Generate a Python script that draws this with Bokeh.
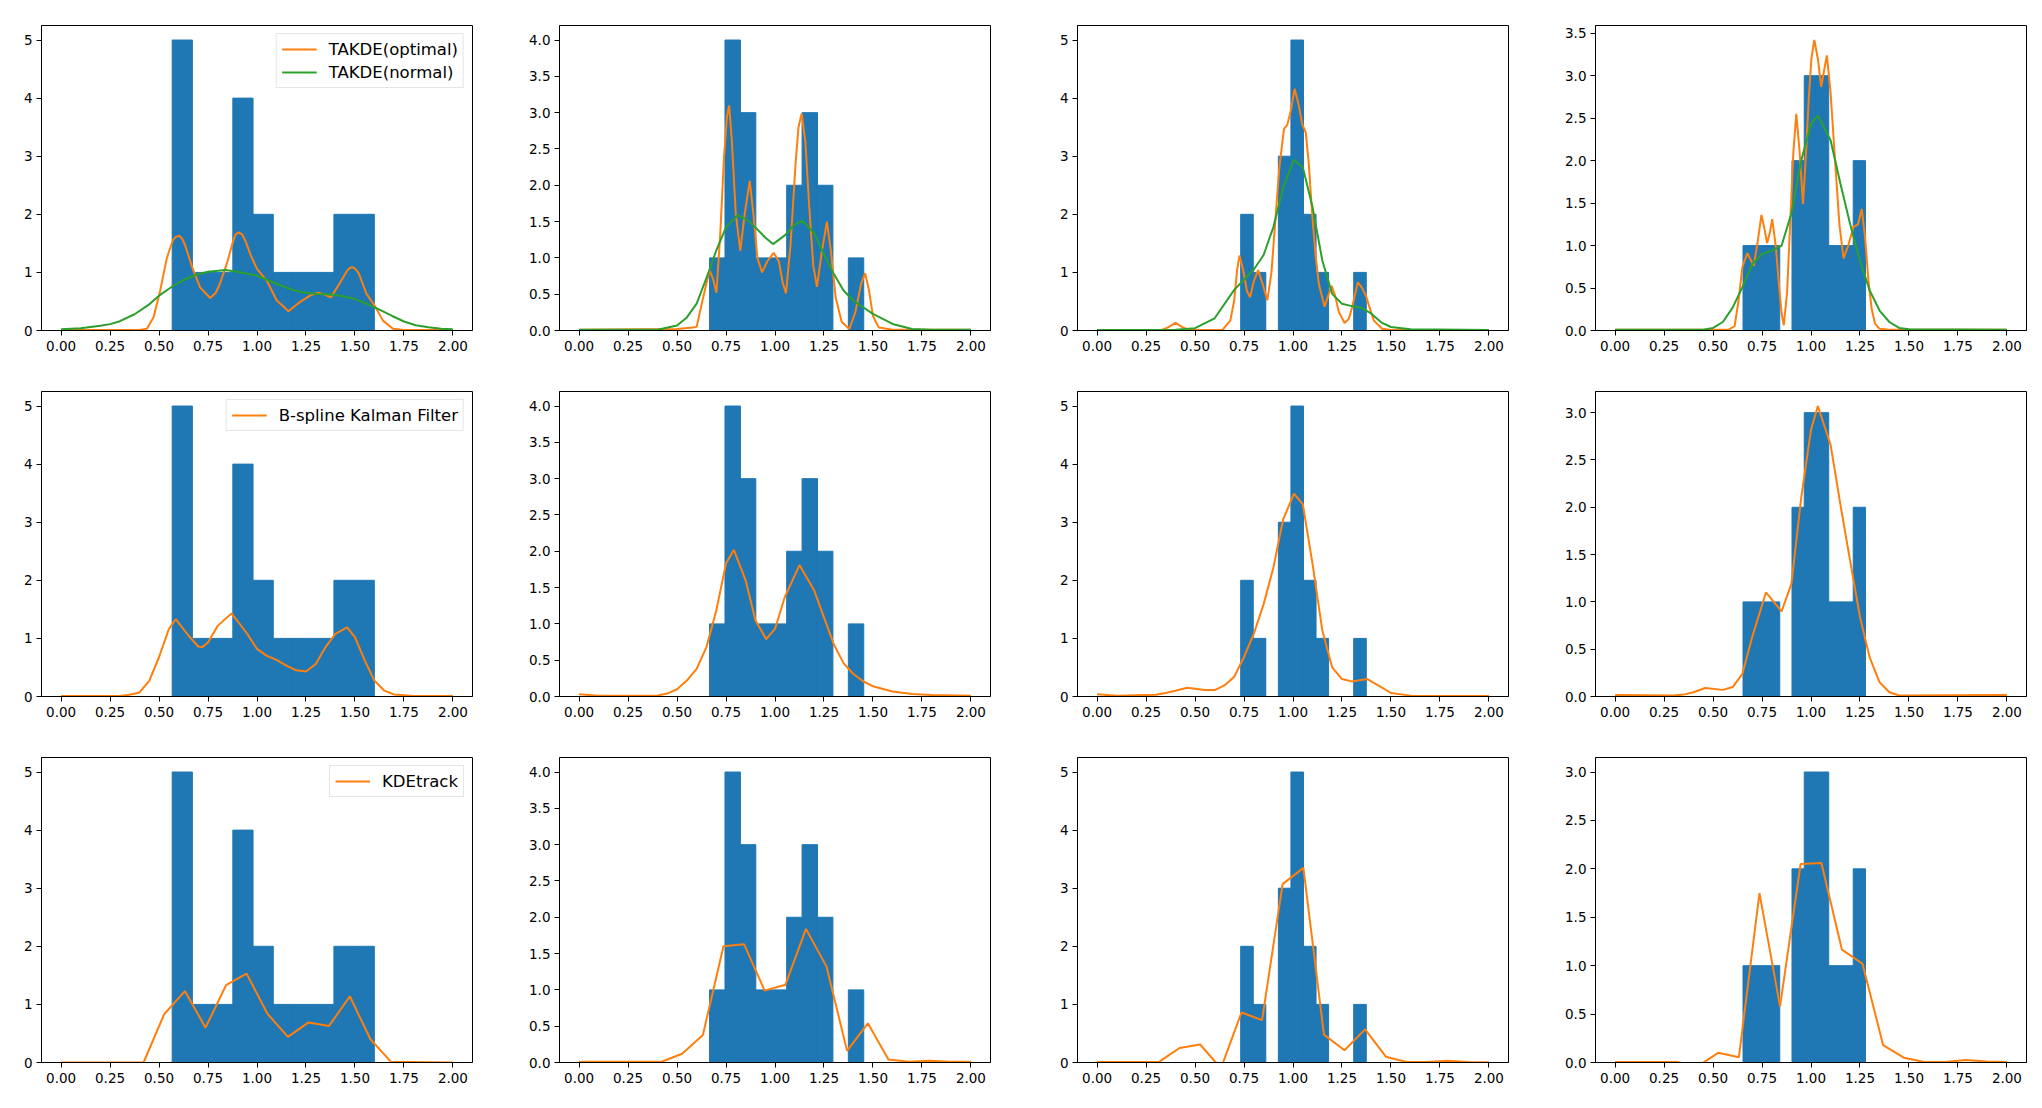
import numpy as np
from bokeh.plotting import figure
from bokeh.layouts import gridplot
from bokeh.models import Range1d, FixedTicker, PrintfTickFormatter
from bokeh.embed import file_html
from bokeh.resources import INLINE

# ---------------- data ----------------
# histogram (same for each column in all three rows): range of 10 equal bins and counts
hist_lo = [0.567, 0.666, 0.733, 0.653]
hist_hi = [1.599, 1.453, 1.374, 1.278]
hist_c1 = [5, 1, 1, 4, 2, 1, 1, 1, 2, 2]
hist_c2 = [1, 4, 3, 1, 1, 2, 3, 2, 0, 1]
hist_c3 = [2, 1, 0, 3, 5, 2, 1, 0, 0, 1]
hist_c4 = [1, 1, 1, 0, 2, 3, 3, 1, 1, 2]

# Row 1: TAKDE(optimal) (orange) and TAKDE(normal) (green)
r1c1_opt_x = [0, 0.40, 0.438, 0.472, 0.506, 0.54, 0.57, 0.585, 0.603, 0.62, 0.635, 0.669, 0.71, 0.761, 0.79, 0.81,
              0.846, 0.875, 0.89, 0.907, 0.925, 0.94, 0.97, 1.0, 1.05, 1.10, 1.161, 1.219, 1.27, 1.31, 1.345, 1.377,
              1.42, 1.46, 1.475, 1.49, 1.505, 1.52, 1.559, 1.6, 1.643, 1.694, 1.75, 2.0]
r1c1_opt_y = [0.01, 0.01, 0.03, 0.23, 0.69, 1.25, 1.55, 1.61, 1.63, 1.57, 1.45, 1.09, 0.74, 0.56, 0.65, 0.80,
              1.15, 1.50, 1.65, 1.69, 1.65, 1.55, 1.28, 1.06, 0.86, 0.52, 0.33, 0.49, 0.60, 0.65, 0.62, 0.57,
              0.80, 1.03, 1.08, 1.09, 1.05, 0.98, 0.63, 0.43, 0.17, 0.03, 0.01, 0.01]
r1c1_nor_x = [0, 0.1, 0.2, 0.25, 0.3, 0.375, 0.45, 0.5, 0.56, 0.625, 0.69, 0.75, 0.84, 0.92, 1.0, 1.06, 1.125,
              1.19, 1.25, 1.31, 1.375, 1.44, 1.5, 1.56, 1.625, 1.69, 1.75, 1.81, 1.875, 1.94, 2.0]
r1c1_nor_y = [0.02, 0.04, 0.08, 0.11, 0.16, 0.28, 0.45, 0.60, 0.74, 0.87, 0.96, 1.01, 1.04, 1.00, 0.945, 0.86, 0.77,
              0.69, 0.65, 0.63, 0.62, 0.59, 0.54, 0.46, 0.36, 0.25, 0.155, 0.09, 0.055, 0.03, 0.02]

r1c2_opt_x = [0, 0.5, 0.58, 0.60, 0.633, 0.666, 0.685, 0.701, 0.72, 0.74, 0.755, 0.766, 0.78, 0.80, 0.823, 0.845,
              0.871, 0.89, 0.91, 0.934, 0.96, 0.993, 1.02, 1.04, 1.056, 1.08, 1.105, 1.12, 1.136, 1.155, 1.175,
              1.195, 1.214, 1.24, 1.265, 1.285, 1.31, 1.34, 1.379, 1.41, 1.44, 1.46, 1.48, 1.50, 1.53, 1.6, 2.0]
r1c2_opt_y = [0.01, 0.02, 0.04, 0.05, 0.45, 0.83, 0.70, 0.52, 1.30, 2.40, 2.95, 3.10, 2.60, 1.60, 1.10, 1.60,
              2.06, 1.60, 1.00, 0.80, 0.95, 1.07, 0.95, 0.65, 0.51, 1.20, 2.30, 2.80, 2.99, 2.60, 1.70,
              0.90, 0.60, 1.10, 1.50, 1.10, 0.45, 0.12, 0.02, 0.25, 0.65, 0.79, 0.55, 0.20, 0.04, 0.01, 0.01]
r1c2_nor_x = [0, 0.4, 0.5, 0.55, 0.6, 0.65, 0.7, 0.75, 0.81, 0.86, 0.9, 0.95, 0.99, 1.05, 1.1, 1.14, 1.2, 1.25,
              1.3, 1.35, 1.4, 1.5, 1.6, 1.7, 1.8, 2.0]
r1c2_nor_y = [0.01, 0.01, 0.07, 0.18, 0.37, 0.72, 1.10, 1.42, 1.59, 1.52, 1.42, 1.28, 1.19, 1.31, 1.46, 1.51, 1.34,
              1.05, 0.78, 0.55, 0.41, 0.23, 0.09, 0.02, 0.01, 0.01]

r1c3_opt_x = [0, 0.33, 0.36, 0.40, 0.44, 0.47, 0.5, 0.64, 0.68, 0.70, 0.715, 0.727, 0.745, 0.765, 0.781, 0.80,
              0.822, 0.845, 0.869, 0.89, 0.91, 0.93, 0.954, 0.971, 0.99, 1.008, 1.028, 1.047, 1.065, 1.08, 1.098,
              1.115, 1.132, 1.161, 1.18, 1.197, 1.215, 1.234, 1.263, 1.285, 1.302, 1.331, 1.355, 1.375, 1.395,
              1.413, 1.455, 1.5, 2.0]
r1c3_opt_y = [0.01, 0.01, 0.05, 0.13, 0.05, 0.015, 0.01, 0.01, 0.17, 0.52, 1.05, 1.29, 1.05, 0.68, 0.57, 0.85,
              1.04, 0.80, 0.52, 1.00, 1.90, 2.80, 3.47, 3.54, 3.80, 4.16, 3.90, 3.55, 3.41, 2.90, 2.00,
              1.30, 0.80, 0.41, 0.60, 0.77, 0.60, 0.32, 0.13, 0.20, 0.40, 0.83, 0.72, 0.57, 0.35,
              0.17, 0.03, 0.01, 0.01]
r1c3_nor_x = [0, 0.4, 0.5, 0.6, 0.7, 0.8, 0.85, 0.9, 0.95, 1.005, 1.05, 1.1, 1.15, 1.2, 1.25, 1.3, 1.35, 1.4,
              1.45, 1.5, 1.6, 2.0]
r1c3_nor_y = [0.01, 0.015, 0.04, 0.21, 0.70, 1.05, 1.30, 1.78, 2.46, 2.94, 2.81, 2.12, 1.20, 0.63, 0.46, 0.42,
              0.39, 0.29, 0.14, 0.06, 0.02, 0.01]

r1c4_opt_x = [0, 0.58, 0.61, 0.63, 0.65, 0.675, 0.708, 0.728, 0.747, 0.762, 0.776, 0.79, 0.802, 0.82, 0.836, 0.85,
              0.861, 0.878, 0.895, 0.91, 0.925, 0.942, 0.959, 0.975, 0.988, 1.002, 1.017, 1.035, 1.052, 1.066,
              1.081, 1.10, 1.124, 1.145, 1.166, 1.19, 1.217, 1.24, 1.259, 1.276, 1.293, 1.31, 1.327, 1.35, 1.4, 2.0]
r1c4_opt_y = [0.01, 0.01, 0.05, 0.35, 0.75, 0.91, 0.76, 1.05, 1.36, 1.20, 1.03, 1.15, 1.31, 1.00, 0.55, 0.20,
              0.06, 0.45, 1.33, 2.10, 2.55, 2.10, 1.49, 2.10, 2.71, 3.20, 3.42, 3.20, 2.87, 3.05,
              3.24, 2.80, 1.96, 1.25, 0.85, 1.00, 1.22, 1.25, 1.43, 1.10, 0.59, 0.25, 0.08, 0.02, 0.01, 0.01]
r1c4_nor_x = [0, 0.45, 0.5, 0.55, 0.6, 0.65, 0.7, 0.75, 0.8, 0.85, 0.9, 0.95, 1.0, 1.035, 1.1, 1.15, 1.2, 1.25,
              1.3, 1.35, 1.4, 1.45, 1.5, 2.0]
r1c4_nor_y = [0.01, 0.01, 0.03, 0.10, 0.27, 0.51, 0.78, 0.90, 0.94, 1.00, 1.38, 2.00, 2.43, 2.53, 2.24, 1.73,
              1.25, 0.82, 0.47, 0.235, 0.10, 0.03, 0.015, 0.01]

# Row 2: B-spline Kalman Filter
r2c1_x = [0, 0.3, 0.35, 0.4, 0.45, 0.5, 0.55, 0.585, 0.65, 0.7, 0.72, 0.75, 0.8, 0.87, 0.95, 1.0, 1.05, 1.1, 1.15,
          1.2, 1.25, 1.3, 1.35, 1.4, 1.46, 1.5, 1.55, 1.6, 1.65, 1.7, 1.8, 2.0]
r2c1_y = [0.01, 0.01, 0.03, 0.07, 0.27, 0.68, 1.16, 1.33, 1.05, 0.86, 0.85, 0.93, 1.22, 1.43, 1.08, 0.82, 0.70,
          0.63, 0.53, 0.45, 0.43, 0.56, 0.85, 1.08, 1.19, 1.02, 0.62, 0.27, 0.10, 0.035, 0.01, 0.01]
r2c2_x = [0, 0.1, 0.4, 0.45, 0.5, 0.55, 0.6, 0.65, 0.7, 0.75, 0.79, 0.85, 0.9, 0.955, 1.0, 1.05, 1.125, 1.2, 1.25,
          1.3, 1.35, 1.4, 1.45, 1.5, 1.6, 1.7, 1.8, 2.0]
r2c2_y = [0.03, 0.01, 0.015, 0.04, 0.10, 0.22, 0.38, 0.68, 1.18, 1.83, 2.02, 1.60, 1.05, 0.79, 0.93, 1.37, 1.81,
          1.46, 1.09, 0.72, 0.46, 0.31, 0.21, 0.14, 0.07, 0.035, 0.02, 0.01]
r2c3_x = [0, 0.1, 0.3, 0.35, 0.4, 0.46, 0.55, 0.6, 0.65, 0.7, 0.75, 0.8, 0.85, 0.9, 0.95, 1.005, 1.05, 1.1, 1.15,
          1.2, 1.25, 1.3, 1.38, 1.45, 1.5, 1.6, 2.0]
r2c3_y = [0.04, 0.015, 0.03, 0.06, 0.10, 0.15, 0.11, 0.11, 0.19, 0.34, 0.68, 1.08, 1.59, 2.22, 3.05, 3.49, 3.31,
          2.28, 1.13, 0.50, 0.30, 0.26, 0.30, 0.16, 0.06, 0.015, 0.01]
r2c4_x = [0, 0.3, 0.35, 0.4, 0.46, 0.55, 0.6, 0.65, 0.7, 0.77, 0.85, 0.9, 0.95, 1.0, 1.035, 1.1, 1.15, 1.2, 1.25,
          1.3, 1.35, 1.4, 1.45, 2.0]
r2c4_y = [0.015, 0.01, 0.02, 0.045, 0.09, 0.07, 0.10, 0.24, 0.63, 1.10, 0.90, 1.19, 2.10, 2.82, 3.07, 2.66, 2.03,
          1.43, 0.84, 0.41, 0.15, 0.045, 0.01, 0.015]

# Row 3: KDEtrack, evaluated on 20 grid points over [0, 2]
kde_grid = [0.0, 0.105, 0.211, 0.316, 0.421, 0.526, 0.632, 0.737, 0.842, 0.947,
            1.053, 1.158, 1.263, 1.368, 1.474, 1.579, 1.684, 1.789, 1.895, 2.0]
r3c1_y = [0.0, 0.0, 0.0, 0.0, 0.0, 0.83, 1.23, 0.60, 1.33, 1.53, 0.84, 0.44, 0.69, 0.63, 1.14, 0.40, 0.01, 0.01, 0.005, 0.0]
r3c2_y = [0.01, 0.01, 0.01, 0.01, 0.01, 0.12, 0.38, 1.60, 1.63, 0.99, 1.07, 1.84, 1.32, 0.16, 0.54, 0.04, 0.01, 0.025, 0.01, 0.01]
r3c3_y = [0.01, 0.01, 0.01, 0.01, 0.25, 0.31, -0.10, 0.86, 0.73, 3.07, 3.35, 0.48, 0.21, 0.57, 0.10, 0.01, 0.01, 0.03, 0.01, 0.005]
r3c4_y = [0.005, 0.005, 0.005, 0.005, -0.04, 0.10, 0.055, 1.75, 0.58, 2.05, 2.06, 1.165, 1.02, 0.18, 0.05, 0.005, 0.005, 0.025, 0.01, 0.005]

x_ticks = [0, 0.25, 0.5, 0.75, 1.0, 1.25, 1.5, 1.75, 2.0]

# ---------------- styling ----------------
BLUE = "#1f77b4"
ORANGE = "#ff7f0e"
GREEN = "#2ca02c"
FONT = "DejaVu Sans"
COL_W = [518, 518, 518, 486]
COL_BR = [46, 46, 46, 14]
ROW_H = [366, 366, 370]
ROW_BB = [36, 36, 40]
BORDER_L = 41
BORDER_T = 25

hists = [hist_c1, hist_c2, hist_c3, hist_c4]
row1_curves = [
    [(r1c1_opt_x, r1c1_opt_y), (r1c1_nor_x, r1c1_nor_y)],
    [(r1c2_opt_x, r1c2_opt_y), (r1c2_nor_x, r1c2_nor_y)],
    [(r1c3_opt_x, r1c3_opt_y), (r1c3_nor_x, r1c3_nor_y)],
    [(r1c4_opt_x, r1c4_opt_y), (r1c4_nor_x, r1c4_nor_y)],
]
row2_curves = [(r2c1_x, r2c1_y), (r2c2_x, r2c2_y), (r2c3_x, r2c3_y), (r2c4_x, r2c4_y)]
row3_curves = [(kde_grid, r3c1_y), (kde_grid, r3c2_y), (kde_grid, r3c3_y), (kde_grid, r3c4_y)]


def make_fig(r, c, curves, colors, labels):
    counts = hists[c]
    edges = np.linspace(hist_lo[c], hist_hi[c], len(counts) + 1)
    top = max(max(counts), max(max(cy) for _, cy in curves))
    ymax = 1.05 * top
    p = figure(width=COL_W[c], height=ROW_H[r],
               x_range=Range1d(-0.1, 2.1), y_range=Range1d(0, ymax),
               output_backend="svg", toolbar_location=None,
               min_border_left=BORDER_L, min_border_right=COL_BR[c],
               min_border_top=BORDER_T, min_border_bottom=ROW_BB[r])
    p.quad(left=edges[:-1], right=edges[1:], top=counts, bottom=0,
           fill_color=BLUE, line_color=BLUE, line_width=1)
    for (cx, cy), col, lab in zip(curves, colors, labels):
        if lab is not None:
            p.line(cx, cy, line_color=col, line_width=2, legend_label=lab)
        else:
            p.line(cx, cy, line_color=col, line_width=2)

    p.xgrid.visible = False
    p.ygrid.visible = False
    p.outline_line_color = "black"
    p.outline_line_width = 1
    p.background_fill_color = "white"
    p.border_fill_color = "white"

    p.xaxis.ticker = FixedTicker(ticks=x_ticks)
    p.xaxis.formatter = PrintfTickFormatter(format="%.2f")
    if c in (0, 2):
        yt = [0, 1, 2, 3, 4, 5]
        p.yaxis.formatter = PrintfTickFormatter(format="%d")
    else:
        yt = [k * 0.5 for k in range(int(ymax / 0.5) + 1)]
        p.yaxis.formatter = PrintfTickFormatter(format="%.1f")
    p.yaxis.ticker = FixedTicker(ticks=yt)

    for ax in (p.xaxis, p.yaxis):
        ax.axis_line_color = "black"
        ax.major_tick_line_color = "black"
        ax.major_tick_in = 0
        ax.major_tick_out = 5
        ax.minor_tick_in = 0
        ax.minor_tick_out = 0
        ax.major_label_text_font = FONT
        ax.major_label_text_font_size = "13.5px"
        ax.major_label_text_color = "black"
    p.xaxis.major_label_standoff = 5
    p.yaxis.major_label_standoff = 4

    if any(l is not None for l in labels):
        lg = p.legend[0]
        lg.location = "top_right"
        lg.margin = 8
        lg.padding = 5
        lg.spacing = 3
        lg.glyph_width = 35
        lg.glyph_height = 20
        lg.label_height = 20
        lg.label_standoff = 12
        lg.label_text_font = FONT
        lg.label_text_font_size = "16.5px"
        lg.label_text_color = "black"
        lg.border_line_color = "#cccccc"
        lg.border_line_width = 1
        lg.background_fill_alpha = 0.8
    return p


rows = []
r1 = []
for c in range(4):
    labs = ["TAKDE(optimal)", "TAKDE(normal)"] if c == 0 else [None, None]
    r1.append(make_fig(0, c, row1_curves[c], [ORANGE, GREEN], labs))
rows.append(r1)
r2 = []
for c in range(4):
    labs = ["B-spline Kalman Filter"] if c == 0 else [None]
    r2.append(make_fig(1, c, [row2_curves[c]], [ORANGE], labs))
rows.append(r2)
r3 = []
for c in range(4):
    labs = ["KDEtrack"] if c == 0 else [None]
    r3.append(make_fig(2, c, [row3_curves[c]], [ORANGE], labs))
rows.append(r3)

grid = gridplot(rows, toolbar_location=None)
open("out.html", "w").write(file_html(grid, INLINE))
